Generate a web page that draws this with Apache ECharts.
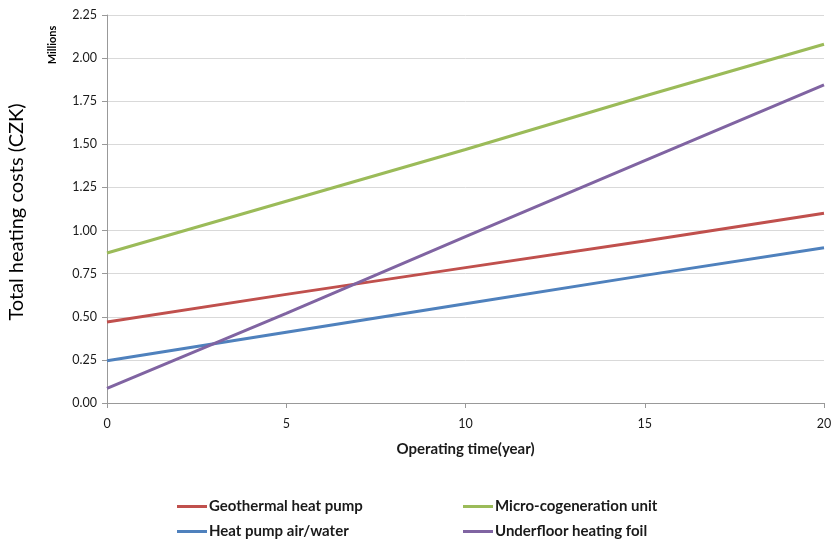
<!DOCTYPE html>
<html>
<head>
<meta charset="utf-8">
<script src="https://cdn.jsdelivr.net/npm/echarts@6/dist/echarts.min.js"></script>
<style>
  html, body { margin: 0; padding: 0; background: #fff; }
  #chart { width: 835px; height: 541px; }
</style>
</head>
<body>
<div id="chart"></div>
<script>
// Operating years sampled along the x axis
const years = [0, 5, 10, 15, 20];

// Cumulative heating costs in millions of CZK
const geothermal = [0.47, 0.63, 0.785, 0.94, 1.10];
const microCogeneration = [0.87, 1.17, 1.47, 1.78, 2.08];
const heatPumpAirWater = [0.245, 0.41, 0.575, 0.74, 0.90];
const underfloorFoil = [0.085, 0.52, 0.965, 1.405, 1.845];

const seriesNames = [
  'Geothermal heat pump',
  'Micro-cogeneration unit',
  'Heat pump air/water',
  'Underfloor heating foil'
];
const seriesValues = [geothermal, microCogeneration, heatPumpAirWater, underfloorFoil];
const seriesColors = ['#C0504D', '#9BBB59', '#4F81BD', '#8064A2'];

const font = 'Lato, "Open Sans", sans-serif';

const chart = echarts.init(document.getElementById('chart'));

// One legend per item so each sits in its own row/column cell
const legendCells = [
  { name: seriesNames[0], left: 177, top: 499 },
  { name: seriesNames[1], left: 463, top: 499 },
  { name: seriesNames[2], left: 177, top: 524 },
  { name: seriesNames[3], left: 463, top: 524 }
];

chart.setOption({
  animation: false,
  color: seriesColors,
  grid: { left: 107, right: 11, top: 15, bottom: 138, containLabel: false },
  legend: legendCells.map(c => ({
    data: [c.name],
    left: c.left,
    top: c.top,
    padding: 0,
    itemWidth: 30,
    itemHeight: 3,
    icon: 'rect',
    selectedMode: false,
    textStyle: { fontFamily: font, fontSize: 15, fontWeight: 'bold', color: '#1a1a1a', padding: [0, 0, 0, -3] }
  })),
  xAxis: {
    type: 'value',
    min: 0,
    max: 20,
    interval: 5,
    name: 'Operating time(year)',
    nameLocation: 'middle',
    nameGap: 39,
    nameTextStyle: { fontFamily: font, fontSize: 15, fontWeight: 'bold', color: '#1a1a1a' },
    axisLine: { lineStyle: { color: '#999', width: 1 } },
    axisTick: { show: true, length: 5, lineStyle: { color: '#999' } },
    axisLabel: { fontFamily: font, fontSize: 12.5, color: '#1a1a1a', margin: 14 },
    splitLine: { show: false }
  },
  yAxis: {
    type: 'value',
    min: 0,
    max: 2.25,
    interval: 0.25,
    axisLine: { show: true, lineStyle: { color: '#999', width: 1 } },
    axisTick: { show: true, length: 5, lineStyle: { color: '#999' } },
    axisLabel: {
      fontFamily: font, fontSize: 12.5, color: '#1a1a1a', margin: 10,
      formatter: v => v.toFixed(2)
    },
    splitLine: { show: true, lineStyle: { color: '#d9d9d9', width: 1 } }
  },
  graphic: [
    {
      type: 'text',
      x: 17, y: 212,
      rotation: Math.PI / 2,
      style: {
        text: 'Total heating costs (CZK)',
        fontFamily: font, fontSize: 20, fill: '#000',
        align: 'center', verticalAlign: 'middle'
      }
    },
    {
      type: 'text',
      x: 52, y: 45,
      rotation: Math.PI / 2,
      style: {
        text: 'Millions',
        fontFamily: font, fontSize: 11, fontWeight: 'bold', fill: '#000',
        align: 'center', verticalAlign: 'middle'
      }
    }
  ],
  series: seriesNames.map((name, i) => ({
    name,
    type: 'line',
    data: years.map((y, j) => [y, seriesValues[i][j]]),
    showSymbol: false,
    lineStyle: { width: 3, color: seriesColors[i] },
    itemStyle: { color: seriesColors[i] }
  }))
});
</script>
</body>
</html>
